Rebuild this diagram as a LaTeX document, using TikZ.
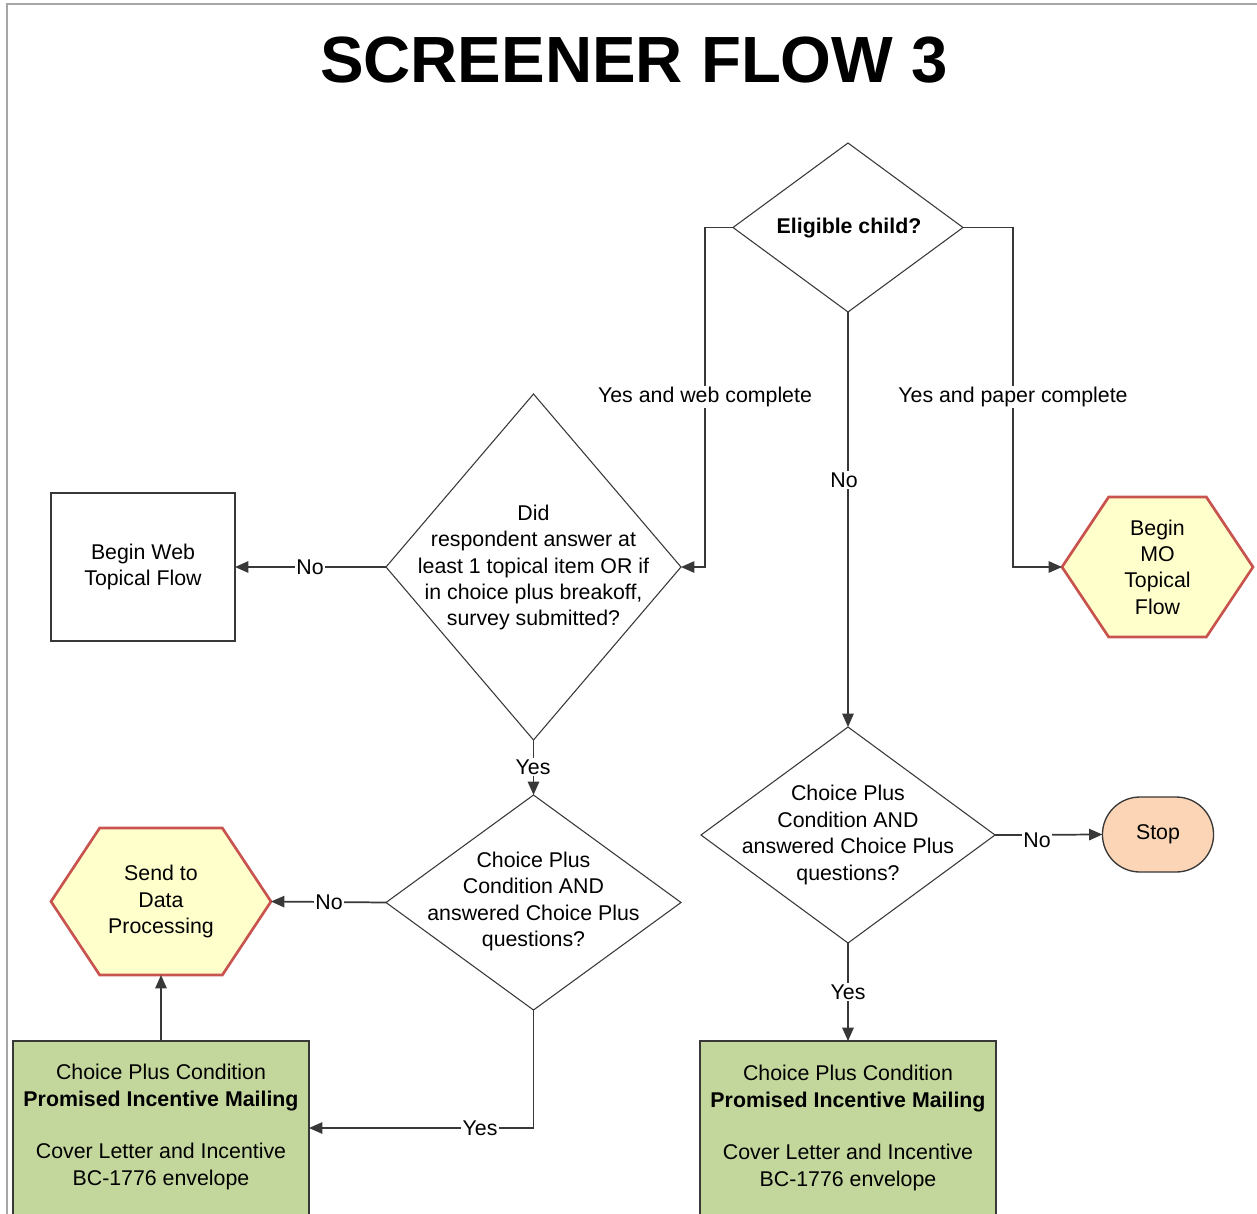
\documentclass[tikz,border=0pt]{standalone}
\usepackage{fontspec}
\setmainfont{Liberation Sans}
\usetikzlibrary{shapes.geometric,shapes.misc,arrows.meta}
\pgfdeclarelayer{background}
\pgfsetlayers{background,main}

\definecolor{linegray}{HTML}{383838}
\definecolor{framegray}{HTML}{A6A6A6}
\definecolor{hexfill}{HTML}{FFFFCC}
\definecolor{hexline}{HTML}{C9544F}
\definecolor{stopfill}{HTML}{FBD5B5}
\definecolor{mailfill}{HTML}{C3D69B}

% hexagon outline behind a named text node (#2 = horizontal inset of the points)
\newcommand\hexagonpath[2]{%
  \filldraw[hexborder] ([xshift=#2]#1.north west) -- ([xshift=-#2]#1.north east)
    -- (#1.east) -- ([xshift=-#2]#1.south east) -- ([xshift=#2]#1.south west)
    -- (#1.west) -- cycle;}

\begin{document}
\begin{tikzpicture}[x=0.75pt,y=-0.75pt,
  body/.style={font=\fontsize{16pt}{19.8pt}\selectfont, align=center, text=black},
  decision/.style={diamond, draw=linegray, line width=0.8pt, fill=white, inner sep=0pt, outer sep=0pt},
  hexnode/.style={body, inner sep=0pt, outer sep=0pt},
  hexborder/.style={fill=hexfill, draw=hexline, line width=2pt, line join=miter},
  procbox/.style={body, draw=linegray, line width=1.1pt, fill=white, outer sep=0pt},
  mailbox/.style={draw=linegray, line width=1.1pt, fill=mailfill, outer sep=0pt},
  stopnode/.style={body, rounded rectangle, draw=linegray, line width=1pt, fill=stopfill, outer sep=0pt},
  conn/.style={draw=linegray, line width=1.3pt, -{Triangle[length=10pt,width=8.5pt]}},
  lab/.style={body, fill=white, inner sep=1pt}]

\useasboundingbox (0,0) rectangle (1257,1214);
\clip (0,0) rectangle (1257,1214);

% page frame
\draw[framegray, line width=1.6pt] (7,1214) -- (7,4) -- (1257,4);

% title
\node[font=\fontsize{49pt}{55pt}\selectfont\bfseries] (title) at (634,60) {SCREENER FLOW 3};

% decisions
\node[decision, minimum width=230*0.75pt, minimum height=169*0.75pt] (elig) at (848,227.5) {};
\node[body, font=\fontsize{16pt}{19.8pt}\selectfont\bfseries] (eligtxt) at (849,228.5) {Eligible child?};

\node[decision, minimum width=295*0.75pt, minimum height=346*0.75pt] (answered) at (533.5,567) {};
\node[body] (answeredtxt) at (533.5,567.5) {Did\\respondent answer at\\least 1 topical item OR if\\in choice plus breakoff,\\survey submitted?};

\node[decision, minimum width=295*0.75pt, minimum height=215*0.75pt] (cpleft) at (533.5,902.5) {};
\node[body] (cplefttxt) at (533.5,901.5) {Choice Plus\\Condition AND\\answered Choice Plus\\questions?};

\node[decision, minimum width=294*0.75pt, minimum height=216*0.75pt] (cpright) at (848,835) {};
\node[body] (cprighttxt) at (848,835) {Choice Plus\\Condition AND\\answered Choice Plus\\questions?};

% process boxes
\node[procbox, minimum width=184*0.75pt, minimum height=148*0.75pt] (webflow) at (143,567) {Begin Web\\Topical Flow};

\node[hexnode, minimum width=191*0.75pt, minimum height=140*0.75pt] (moflow) at (1157.5,567) {Begin\\MO\\Topical\\Flow};
\node[hexnode, minimum width=220*0.75pt, minimum height=147*0.75pt] (dataproc) at (161,901.5) {Send to\\Data\\Processing};
\begin{pgfonlayer}{background}
  \hexagonpath{moflow}{35pt}
  \hexagonpath{dataproc}{36.5pt}
\end{pgfonlayer}

\node[stopnode, minimum width=120*0.75pt, minimum height=75*0.75pt] (stop) at (1158,834.5) {Stop};

% mailing boxes (they run past the lower edge)
\node[mailbox, minimum width=296*0.75pt, minimum height=200*0.75pt] (mailleft) at (161,1141) {};
\node[body] (maillefttxt) at (161,1127) {Choice Plus Condition\\\textbf{Promised Incentive Mailing}\\[19.8pt]Cover Letter and Incentive\\BC-1776 envelope};
\node[mailbox, minimum width=296*0.75pt, minimum height=200*0.75pt] (mailright) at (848,1141) {};
\node[body] (mailrighttxt) at (848,1128) {Choice Plus Condition\\\textbf{Promised Incentive Mailing}\\[19.8pt]Cover Letter and Incentive\\BC-1776 envelope};

\coordinate (mailleftin) at (309,1128);

% connectors
\draw[conn] (elig.west) -- ++(-28,0) |- (answered.east);
\draw[conn] (elig.east) -- ++(50,0) |- (moflow.west);
\draw[conn] (elig.south) -- (cpright.north);
\draw[conn] (answered.west) -- (webflow.east);
\draw[conn] (answered.south) -- (cpleft.north);
\draw[conn] (cpleft.west) -- (dataproc.east);
\draw[conn] (cpleft.south) |- (mailleftin);
\draw[conn] (mailleft.north) -- (dataproc.south);
\draw[conn] (cpright.east) -- (stop.west);
\draw[conn] (cpright.south) -- (mailright.north);

% connector labels
\node[lab] (lwebyes) at (705,397) {Yes and web complete};
\node[lab] (lpaperyes) at (1013,397) {Yes and paper complete};
\node[lab] (leligno) at (844,480) {No};
\node[lab] (lwebno) at (310,567) {No};
\node[lab] (lansyes) at (533,767) {Yes};
\node[lab] (lcpleftno) at (329,902) {No};
\node[lab] (lcpleftyes) at (480,1128) {Yes};
\node[lab] (lcprightno) at (1037,840) {No};
\node[lab] (lcprightyes) at (848,992) {Yes};

\end{tikzpicture}
\end{document}
